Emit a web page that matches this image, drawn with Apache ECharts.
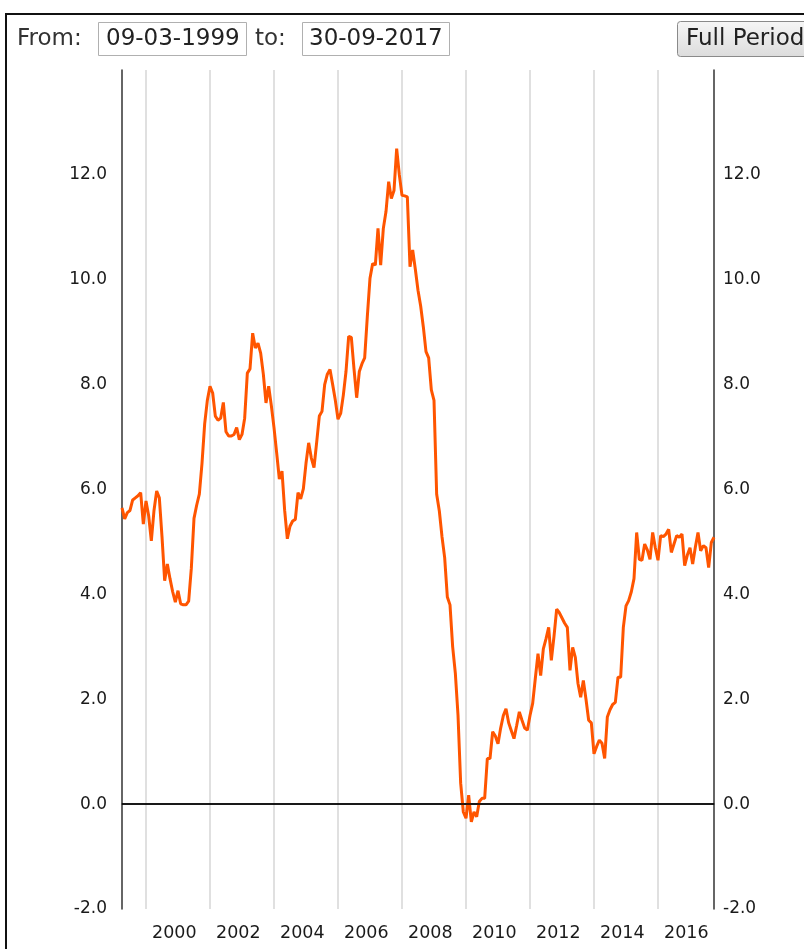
<!DOCTYPE html>
<html>
<head>
<meta charset="utf-8">
<script src="https://cdn.jsdelivr.net/npm/echarts@6/dist/echarts.min.js"></script>
<style>
  html, body { margin: 0; padding: 0; background: #fff; }
  #main { width: 804px; height: 949px; }
</style>
</head>
<body>
<div id="main"></div>
<script>
// monthly categories, March 1999 .. September 2017
var months = [];
for (var y = 1999; y <= 2017; y++) {
  for (var m = 1; m <= 12; m++) {
    if (y === 1999 && m < 3) continue;
    if (y === 2017 && m > 9) continue;
    months.push(y + '-' + (m < 10 ? '0' + m : m));
  }
}

// values (one per month)
var values = [
  5.65, 5.44, 5.56, 5.60, 5.80, 5.84, 5.88, 5.94, 5.34, 5.78,
  5.50, 5.02, 5.60, 5.97, 5.84, 5.10, 4.26, 4.58, 4.30, 4.05,
  3.85, 4.07, 3.82, 3.80, 3.80, 3.87, 4.50, 5.45, 5.70, 5.91,
  6.50, 7.25, 7.70, 7.97, 7.84, 7.40, 7.32, 7.36, 7.66, 7.10,
  7.02, 7.02, 7.05, 7.18, 6.95, 7.05, 7.36, 8.22, 8.30, 8.98,
  8.70, 8.79, 8.60, 8.20, 7.65, 7.97, 7.60, 7.18, 6.70, 6.20,
  6.35, 5.60, 5.06, 5.30, 5.40, 5.43, 5.94, 5.82, 6.01, 6.50,
  6.89, 6.60, 6.42, 6.90, 7.40, 7.49, 8.00, 8.20, 8.29, 8.00,
  7.70, 7.34, 7.45, 7.80, 8.25, 8.92, 8.90, 8.30, 7.75, 8.25,
  8.40, 8.51, 9.30, 10.03, 10.31, 10.28, 10.98, 10.28, 10.98, 11.30,
  11.87, 11.55, 11.70, 12.50, 12.00, 11.61, 11.60, 11.58, 10.25, 10.57,
  10.20, 9.80, 9.50, 9.10, 8.63, 8.51, 7.90, 7.70, 5.91, 5.59,
  5.10, 4.70, 3.95, 3.80, 3.00, 2.50, 1.70, 0.40, -0.15, -0.27,
  0.17, -0.34, -0.15, -0.24, 0.05, 0.11, 0.11, 0.87, 0.87, 1.38,
  1.30, 1.15, 1.45, 1.69, 1.82, 1.55, 1.40, 1.25, 1.50, 1.76,
  1.60, 1.45, 1.41, 1.69, 1.92, 2.40, 2.87, 2.45, 2.96, 3.15,
  3.37, 2.74, 3.20, 3.72, 3.65, 3.55, 3.45, 3.37, 2.55, 2.99,
  2.80, 2.30, 2.04, 2.36, 2.00, 1.60, 1.55, 0.96, 1.10, 1.22,
  1.16, 0.87, 1.66, 1.80, 1.90, 1.94, 2.42, 2.42, 3.37, 3.78,
  3.88, 4.05, 4.30, 5.18, 4.67, 4.65, 4.96, 4.85, 4.67, 5.18,
  4.89, 4.65, 5.12, 5.10, 5.15, 5.24, 4.80, 4.96, 5.12, 5.09,
  5.15, 4.55, 4.75, 4.89, 4.58, 4.90, 5.18, 4.83, 4.93, 4.89,
  4.51, 4.99, 5.09
];

var yTicks = { min: -2, max: 14, step: 2 };
var fromText = '09-03-1999';
var toText = '30-09-2017';

var font = 'DejaVu Sans, Verdana, sans-serif';

// the year boundary sits at the end of December of odd years
function yearStart(index) {
  var s = months[index];
  return s.slice(5) === '12' && parseInt(s.slice(0, 4), 10) % 2 === 1;
}

var chart = echarts.init(document.getElementById('main'));

chart.setOption({
  animation: false,
  grid: { left: 122, right: 90, top: 70, bottom: 40 },
  xAxis: {
    type: 'category',
    data: months,
    boundaryGap: false,
    axisLine: { lineStyle: { color: '#333', width: 1.5 } },
    axisTick: { show: false },
    axisLabel: {
      interval: function (i) { return yearStart(i); },
      formatter: function (v) { return String(parseInt(v.slice(0, 4), 10) + 1); },
      align: 'left',
      padding: [0, 0, 0, 6],
      margin: 15,
      color: '#1a1a1a',
      fontFamily: font,
      fontSize: 17.5
    },
    splitLine: {
      show: true,
      interval: function (i) { return yearStart(i); },
      lineStyle: { color: '#d6d6d6', width: 1.5 }
    }
  },
  yAxis: [{
    type: 'value',
    position: 'left',
    min: yTicks.min, max: yTicks.max, interval: yTicks.step,
    axisLine: { show: true, lineStyle: { color: '#333', width: 1.5 } },
    axisTick: { show: false },
    splitLine: { show: false },
    axisLabel: {
      margin: 15, color: '#1a1a1a', fontFamily: font, fontSize: 17,
      formatter: function (v) { return v === yTicks.max ? '' : v.toFixed(1); }
    }
  }, {
    type: 'value',
    position: 'right',
    min: yTicks.min, max: yTicks.max, interval: yTicks.step,
    axisLine: { show: true, lineStyle: { color: '#333', width: 1.5 } },
    axisTick: { show: false },
    splitLine: { show: false },
    axisLabel: {
      margin: 9, color: '#1a1a1a', fontFamily: font, fontSize: 17,
      formatter: function (v) { return v === yTicks.max ? '' : v.toFixed(1); }
    }
  }],
  series: [{
    type: 'line',
    data: values,
    yAxisIndex: 0,
    showSymbol: false,
    lineStyle: { color: '#ff5500', width: 3 },
    itemStyle: { color: '#ff5500' },
    markLine: {
      silent: true,
      symbol: 'none',
      label: { show: false },
      lineStyle: { color: '#000', width: 1.5, type: 'solid' },
      data: [{ yAxis: 0 }]
    },
    z: 3
  }],
  graphic: [
    { type: 'rect', shape: { x: 6, y: 14, width: 900, height: 1000 },
      style: { fill: 'none', stroke: '#111', lineWidth: 2 }, silent: true },
    { type: 'text', x: 17, y: 39,
      style: { text: 'From:', font: '23px ' + font, fill: '#333', verticalAlign: 'middle' } },
    { type: 'rect', shape: { x: 98.5, y: 22.5, width: 148, height: 33 },
      style: { fill: '#fff', stroke: '#b0b0b0', lineWidth: 1 } },
    { type: 'text', x: 106, y: 39,
      style: { text: fromText, font: '23px ' + font, fill: '#222', verticalAlign: 'middle' } },
    { type: 'text', x: 255, y: 39,
      style: { text: 'to:', font: '23px ' + font, fill: '#333', verticalAlign: 'middle' } },
    { type: 'rect', shape: { x: 302.5, y: 22.5, width: 147, height: 33 },
      style: { fill: '#fff', stroke: '#b0b0b0', lineWidth: 1 } },
    { type: 'text', x: 309, y: 39,
      style: { text: toText, font: '23px ' + font, fill: '#222', verticalAlign: 'middle' } },
    { type: 'rect', shape: { x: 677.5, y: 21.5, width: 160, height: 35, r: 3 },
      style: {
        stroke: '#8a8a8a', lineWidth: 1,
        fill: new echarts.graphic.LinearGradient(0, 0, 0, 1, [
          { offset: 0, color: '#f6f6f6' }, { offset: 1, color: '#dcdcdc' }
        ])
      } },
    { type: 'text', x: 686, y: 39,
      style: { text: 'Full Period', font: '23px ' + font, fill: '#222', verticalAlign: 'middle' } }
  ]
});
</script>
</body>
</html>
